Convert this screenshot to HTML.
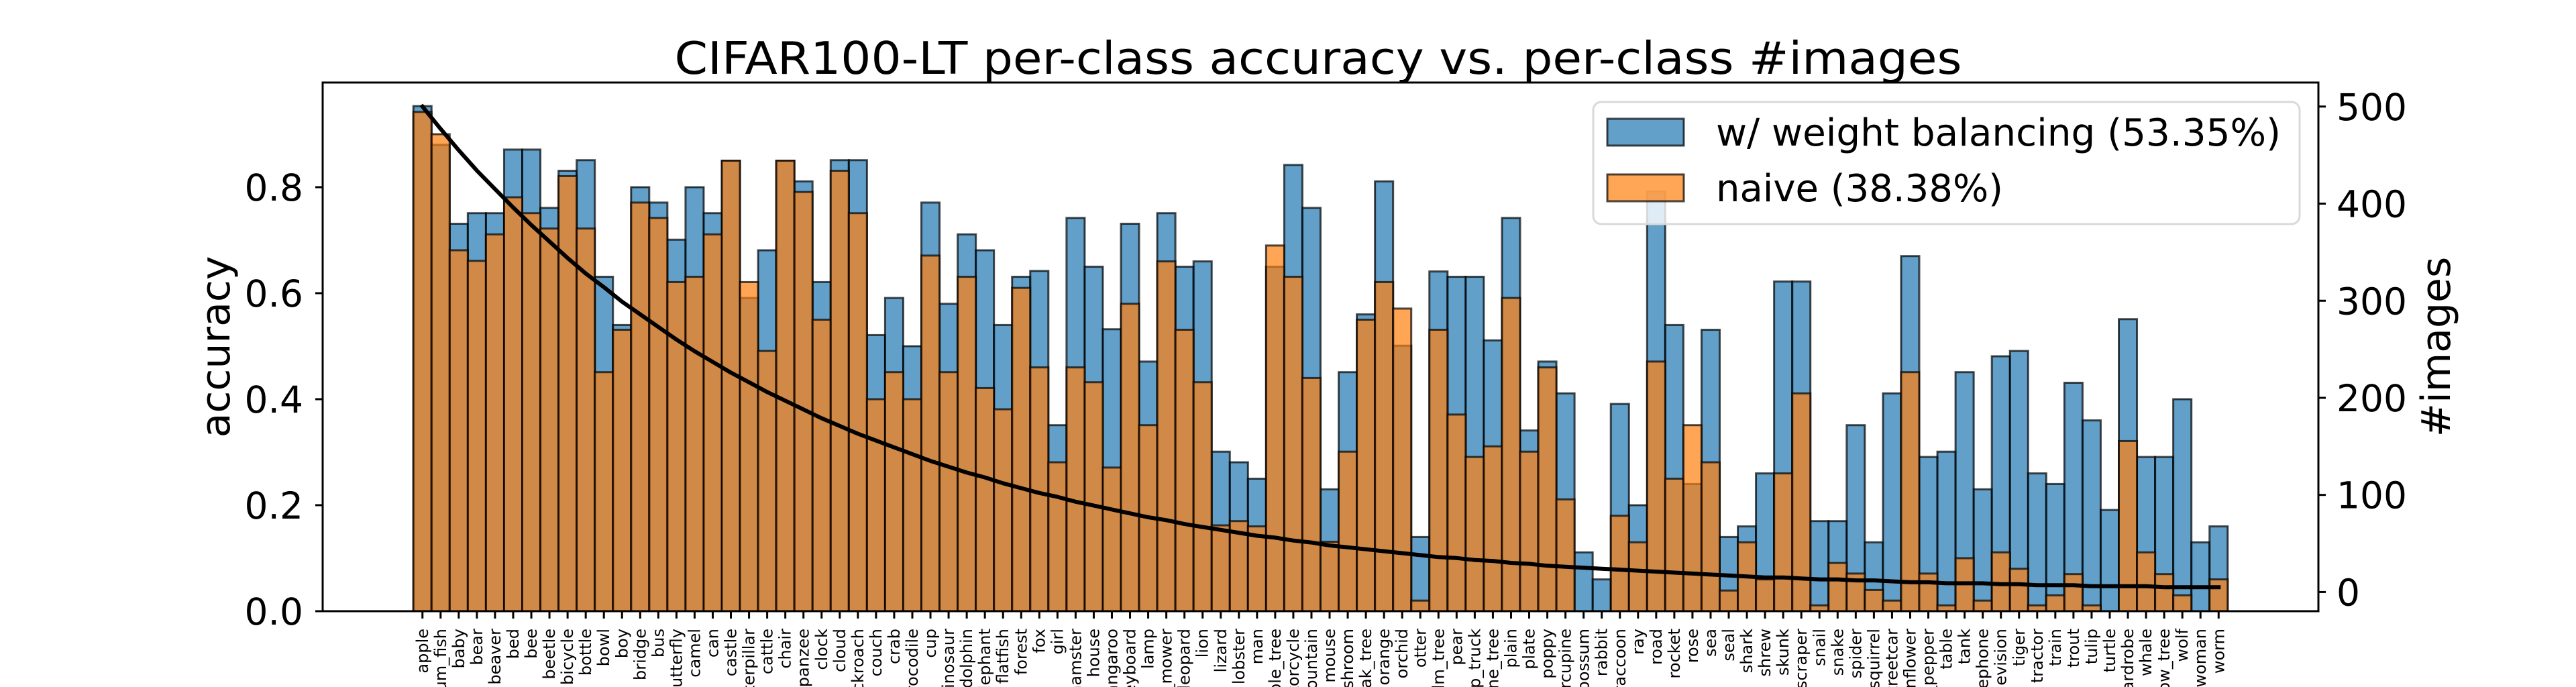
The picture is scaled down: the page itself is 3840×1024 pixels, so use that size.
<!DOCTYPE html>
<html><head><meta charset="utf-8"><style>html,body{margin:0;padding:0;background:#fff;width:3840px;height:1024px;overflow:hidden}svg{display:block;overflow:hidden}text{font-family:"DejaVu Sans","Liberation Sans",sans-serif;fill:#000}</style></head>
<body>
<svg id="chart" width="3840" height="1024" viewBox="0 0 3840 1024" xmlns="http://www.w3.org/2000/svg">
<rect width="3840" height="1024" fill="#fff"/>
<text x="1965" y="110" font-size="67" text-anchor="middle" textLength="1919" lengthAdjust="spacingAndGlyphs">CIFAR100-LT per-class accuracy vs. per-class #images</text>
<g id="bars"></g>
<g id="linegrp"></g>
<g id="axes"></g>
<text x="0" y="0" font-size="60" text-anchor="middle" transform="translate(342,517) rotate(-90)">accuracy</text>
<text x="0" y="0" font-size="60" text-anchor="middle" transform="translate(3652,517) rotate(-90)">#images</text>
<g>
<rect x="2375" y="152" width="1053" height="182" rx="12" fill="#fff" fill-opacity="0.8" stroke="#d9d9d9" stroke-width="3"/>
<rect x="2396" y="177" width="114" height="40" fill="#1f77b4" fill-opacity="0.7" stroke="#000" stroke-opacity="0.7" stroke-width="3"/>
<text x="2558" y="217" font-size="56" textLength="842" lengthAdjust="spacingAndGlyphs">w/ weight balancing (53.35%)</text>
<rect x="2396" y="260" width="114" height="40" fill="#ff7f0e" fill-opacity="0.7" stroke="#000" stroke-opacity="0.7" stroke-width="3"/>
<text x="2558" y="300" font-size="56" textLength="428" lengthAdjust="spacingAndGlyphs">naive (38.38%)</text>
</g>
</svg>
<script>
const classes = ["apple","aquarium_fish","baby","bear","beaver","bed","bee","beetle","bicycle","bottle","bowl","boy","bridge","bus","butterfly","camel","can","castle","caterpillar","cattle","chair","chimpanzee","clock","cloud","cockroach","couch","crab","crocodile","cup","dinosaur","dolphin","elephant","flatfish","forest","fox","girl","hamster","house","kangaroo","keyboard","lamp","lawn_mower","leopard","lion","lizard","lobster","man","maple_tree","motorcycle","mountain","mouse","mushroom","oak_tree","orange","orchid","otter","palm_tree","pear","pickup_truck","pine_tree","plain","plate","poppy","porcupine","possum","rabbit","raccoon","ray","road","rocket","rose","sea","seal","shark","shrew","skunk","skyscraper","snail","snake","spider","squirrel","streetcar","sunflower","sweet_pepper","table","tank","telephone","television","tiger","tractor","train","trout","tulip","turtle","wardrobe","whale","willow_tree","wolf","woman","worm"];
const balancedAcc = [0.953,0.88,0.731,0.751,0.751,0.871,0.871,0.761,0.831,0.851,0.631,0.54,0.80,0.771,0.701,0.80,0.751,0.85,0.591,0.681,0.85,0.811,0.621,0.851,0.851,0.521,0.591,0.50,0.771,0.58,0.711,0.681,0.54,0.631,0.642,0.351,0.742,0.65,0.532,0.731,0.471,0.751,0.65,0.66,0.301,0.281,0.25,0.65,0.842,0.761,0.23,0.451,0.56,0.811,0.501,0.14,0.641,0.631,0.631,0.511,0.742,0.341,0.471,0.411,0.111,0.06,0.391,0.20,0.792,0.54,0.24,0.531,0.14,0.16,0.26,0.622,0.622,0.17,0.17,0.351,0.13,0.411,0.67,0.291,0.301,0.451,0.23,0.481,0.491,0.26,0.24,0.431,0.36,0.191,0.551,0.291,0.291,0.40,0.13,0.16];
const naiveAcc = [0.942,0.90,0.681,0.661,0.711,0.781,0.751,0.722,0.821,0.722,0.451,0.531,0.771,0.742,0.621,0.631,0.711,0.85,0.621,0.491,0.85,0.791,0.55,0.831,0.751,0.40,0.451,0.40,0.671,0.451,0.631,0.421,0.381,0.61,0.46,0.281,0.46,0.432,0.271,0.58,0.351,0.66,0.531,0.432,0.162,0.17,0.16,0.69,0.631,0.44,0.131,0.301,0.55,0.621,0.571,0.02,0.531,0.371,0.291,0.311,0.591,0.301,0.46,0.211,0,0,0.18,0.13,0.471,0.25,0.351,0.281,0.039,0.13,0.06,0.26,0.411,0.011,0.091,0.071,0.04,0.02,0.451,0.071,0.011,0.10,0.02,0.111,0.08,0.011,0.03,0.07,0.011,0,0.321,0.111,0.07,0.03,0,0.06];
const imageCounts = [500,477,455,434,415,396,378,361,344,328,314,299,286,273,260,248,237,226,216,206,197,188,179,171,163,156,149,142,135,129,123,118,112,107,102,98,93,89,85,81,77,74,70,67,64,61,58,56,53,51,48,46,44,42,40,38,36,35,33,32,30,29,27,26,25,24,23,22,21,20,19,18,17,16,15,15,14,13,13,12,12,11,10,10,9,9,9,8,8,7,7,7,6,6,6,6,5,5,5,5];
const yTicks = [0.0,0.2,0.4,0.6,0.8];
const yTickLabels = ["0.0","0.2","0.4","0.6","0.8"];
const y2Ticks = [0,100,200,300,400,500];
const y2TickLabels = ["0","100","200","300","400","500"];

const NS = "http://www.w3.org/2000/svg";
const L = 481, R = 3456, T = 123, B = 911;
const xMin = -5.5, xMax = 104.5, yMin = 0, yMax = 0.9975, y2Min = -19.75, y2Max = 524.75;
function xs(v){ return L + (v - xMin) / (xMax - xMin) * (R - L); }
function ys(v){ return B - (v - yMin) / (yMax - yMin) * (B - T); }
function y2s(v){ return B - (v - y2Min) / (y2Max - y2Min) * (B - T); }
function mk(tag, attrs, parent){ const e = document.createElementNS(NS, tag); for (const k in attrs) e.setAttribute(k, attrs[k]); parent.appendChild(e); return e; }

const bars = document.getElementById('bars');
function drawSeries(vals, color, name){
  vals.forEach((v, i) => {
    const x0 = xs(i - 0.5), x1 = xs(i + 0.5), y = ys(v);
    const r = mk('rect', {x: x0, y: y, width: x1 - x0, height: B - y, fill: color, 'fill-opacity': 0.7, stroke: '#000', 'stroke-opacity': 0.7, 'stroke-width': 3}, bars);
    
    
  });
}
drawSeries(balancedAcc, '#1f77b4', 'balanced');
drawSeries(naiveAcc, '#ff7f0e', 'naive');

const lg = document.getElementById('linegrp');
const pts = imageCounts.map((c, i) => xs(i).toFixed(1) + ',' + y2s(c).toFixed(1)).join(' ');
const pl = mk('polyline', {points: pts, fill: 'none', stroke: '#000', 'stroke-width': 6, 'stroke-linejoin': 'round', 'stroke-linecap': 'square'}, lg);



const ax = document.getElementById('axes');
const frame = mk('rect', {x: L, y: T, width: R - L, height: B - T, fill: 'none', stroke: '#000', 'stroke-width': 3}, ax);



yTicks.forEach((v, i) => {
  const y = ys(v);
  const t = mk('line', {x1: L - 11, x2: L, y1: y, y2: y, stroke: '#000', 'stroke-width': 3}, ax);
  
  
  const lb = mk('text', {x: L - 29, y: y + 20, 'font-size': 55, 'text-anchor': 'end'}, ax);
  lb.textContent = yTickLabels[i];
  
  
});
y2Ticks.forEach((v, i) => {
  const y = y2s(v);
  const t = mk('line', {x1: R, x2: R + 11, y1: y, y2: y, stroke: '#000', 'stroke-width': 3}, ax);
  
  
  const lb = mk('text', {x: R + 27, y: y + 20, 'font-size': 55}, ax);
  lb.textContent = y2TickLabels[i];
  
  
});
classes.forEach((c, i) => {
  const x = xs(i);
  const t = mk('line', {x1: x, x2: x, y1: B, y2: B + 11, stroke: '#000', 'stroke-width': 3}, ax);
  
  
  const lb = mk('text', {x: 0, y: 0, 'font-size': 24, 'text-anchor': 'end', transform: 'translate(' + (x + 8) + ',937) rotate(-90)'}, ax);
  lb.textContent = c;
  
  
});
</script>
</body></html>
